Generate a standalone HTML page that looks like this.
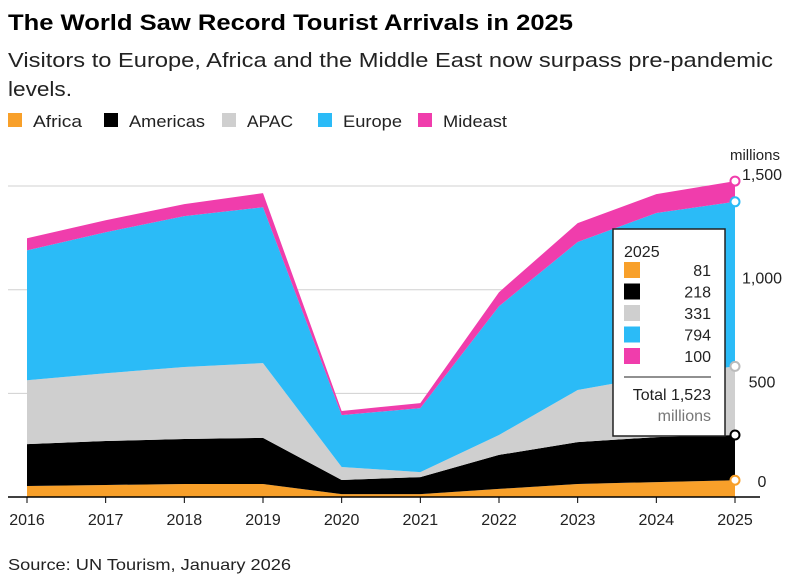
<!DOCTYPE html>
<html><head><meta charset="utf-8">
<style>
body{margin:0;background:#fff;font-family:"Liberation Sans",sans-serif;}
#wrap{position:relative;width:800px;height:584px;overflow:hidden;}
</style></head>
<body>
<div id="wrap">
<svg id="svg" width="800" height="584" xmlns="http://www.w3.org/2000/svg">
<text x="8" y="30" font-size="22" font-weight="bold" fill="#000" textLength="565" lengthAdjust="spacingAndGlyphs">The World Saw Record Tourist Arrivals in 2025</text>
<text x="8" y="67" font-size="20" fill="#222" textLength="765" lengthAdjust="spacingAndGlyphs">Visitors to Europe, Africa and the Middle East now surpass pre-pandemic</text>
<text x="8" y="96" font-size="20" fill="#222" textLength="64" lengthAdjust="spacingAndGlyphs">levels.</text>
<g id="legend"></g>
<g id="grid"></g>
<g id="areas"></g>
<g id="axes"></g>
<g id="box"></g>
<text x="8" y="570" font-size="16" fill="#222" textLength="283" lengthAdjust="spacingAndGlyphs">Source: UN Tourism, January 2026</text>
</svg>
</div>
<script>
const years=[2016,2017,2018,2019,2020,2021,2022,2023,2024,2025];
const africa=[53,58,63,63,14,14,39,63,72,81];
const americas=[202,212,217,222,68,82,164,202,217,218];
const apac=[308,327,347,361,63,24,96,251,295,331];
const europe=[627,680,728,752,250,309,621,714,786,794];
const mideast=[58,58,58,68,20,24,68,91,91,100];
const seriesNames=["Africa","Americas","APAC","Europe","Mideast"];
const yTicks=[0,500,1000,1500];
const yTickLabels=["0","500","1,000","1,500"];
const totalLabel="Total 1,523";
const colors=["#f8a02a","#000000","#cfcfcf","#2bbbf7","#f03dac"];
const series=[africa,americas,apac,europe,mideast];
const NS="http://www.w3.org/2000/svg";
const x=y=>27+(y-2016)*(735-27)/9;
const yv=v=>497-v*0.2073;
function mk(tag,attrs,parent){const e=document.createElementNS(NS,tag);for(const k in attrs)e.setAttribute(k,attrs[k]);parent.appendChild(e);return e;}
const g=id=>document.getElementById(id);
// legend
const legX=[8,104,222,318,418];
const legW=[49,76,46,59,64];
seriesNames.forEach((n,i)=>{
  const r=mk("rect",{x:legX[i],y:113,width:14,height:14,fill:colors[i]},g("legend"));
  
  
  const t=mk("text",{x:legX[i]+25,y:127,"font-size":17,fill:"#222",textLength:legW[i],lengthAdjust:"spacingAndGlyphs"},g("legend"));
  t.textContent=n;
  
  
});
// grid
yTicks.forEach((v,i)=>{
  if(v>0){const l=mk("line",{x1:8,x2:735,y1:yv(v),y2:yv(v),stroke:"#d0d0d0","stroke-width":1},g("grid"));
  
  }
  const t=mk("text",{x:762,y:yv(v)-6+(v===0?-4:0),"font-size":16,fill:"#222","text-anchor":"middle"},g("axes"));
  t.textContent=yTickLabels[i];
  
  
});
const ut=mk("text",{x:755,y:160,"font-size":15,fill:"#222","text-anchor":"middle"},g("axes"));
ut.textContent="millions";


// areas
let base=years.map(()=>0);
series.forEach((s,si)=>{
  const top=base.map((b,i)=>b+s[i]);
  let d="M"+years.map((yr,i)=>x(yr)+","+yv(top[i])).join("L");
  for(let i=years.length-1;i>=0;i--)d+="L"+x(years[i])+","+yv(base[i]);
  const p=mk("path",{d:d+"Z",fill:colors[si]},g("areas"));
  
  
  base=top;
});
// end markers
base=years.map(()=>0);
series.forEach((s,si)=>{
  const n=years.length-1;base[n]+=s[n];
  const c=mk("circle",{cx:x(years[n]),cy:yv(base[n]),r:4.5,fill:"#fff",stroke:colors[si]==="#cfcfcf"?"#bbb":colors[si],"stroke-width":2},g("box"));
  
  
});
// x axis
const ax=mk("line",{x1:8,x2:760,y1:497,y2:497,stroke:"#000","stroke-width":1.5},g("axes"));


years.forEach(yr=>{
  const tk=mk("line",{x1:x(yr),x2:x(yr),y1:497,y2:503,stroke:"#000"},g("axes"));
  
  
  const t=mk("text",{x:x(yr),y:525,"font-size":16,fill:"#222","text-anchor":"middle"},g("axes"));
  t.textContent=yr;
  
  
});
// value box
const bx=g("box");
const br=mk("rect",{x:613,y:229,width:112,height:207,fill:"#fff",stroke:"#222","stroke-width":1.5},bx);


const hdr=mk("text",{x:624,y:257,"font-size":16,fill:"#222"},bx);hdr.textContent="2025";


series.forEach((s,si)=>{
  const v=s[s.length-1];const yy=274+si*21.5;
  const r=mk("rect",{x:624,y:yy-12,width:16,height:16,fill:colors[si]},bx);
  
  
  const t=mk("text",{x:711,y:yy+2,"font-size":16,fill:"#222","text-anchor":"end"},bx);t.textContent=v;
  
  
});
const sep=mk("line",{x1:624,x2:711,y1:377,y2:377,stroke:"#222"},bx);


const tt=mk("text",{x:711,y:400,"font-size":16,fill:"#222","text-anchor":"end"},bx);
tt.textContent=totalLabel;


const mu=mk("text",{x:711,y:421,"font-size":16,fill:"#777","text-anchor":"end"},bx);mu.textContent="millions";


</script>
</body></html>
